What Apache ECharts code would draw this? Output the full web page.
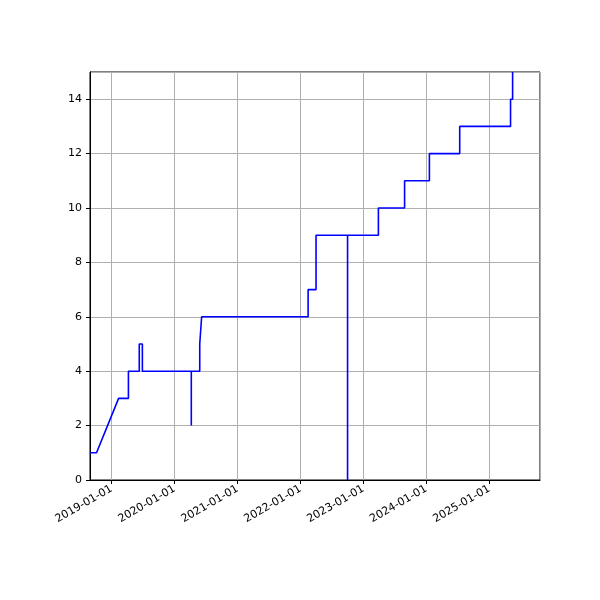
<!DOCTYPE html>
<html>
<head>
<meta charset="utf-8">
<script src="https://cdn.jsdelivr.net/npm/echarts@6/dist/echarts.min.js"></script>
<style>html,body{margin:0;background:#fff}#main{width:600px;height:600px}</style>
</head>
<body>
<div id="main"></div>
<script>
var dates = [
  '2018-08-28', '2018-10-05', '2019-02-10', '2019-04-08', '2019-04-08',
  '2019-06-10', '2019-06-10', '2019-06-28', '2019-06-28', '2020-04-07',
  '2020-04-07', '2020-04-07', '2020-05-26', '2020-05-26', '2020-06-06',
  '2020-06-06', '2022-02-14', '2022-02-14', '2022-04-01', '2022-04-01',
  '2022-10-01', '2022-10-01', '2022-10-01', '2023-03-29', '2023-03-29',
  '2023-08-28', '2023-08-28', '2024-01-19', '2024-01-19', '2024-07-13',
  '2024-07-13', '2025-05-04', '2025-05-04', '2025-05-16', '2025-05-16'
]
var values = [
  1, 1, 3, 3, 4,
  4, 5, 5, 4, 4,
  2, 4, 4, 5, 5,
  6, 6, 7, 7, 9,
  9, 0, 9, 9, 10,
  10, 11, 11, 12, 12,
  13, 13, 14, 14, 15
]
var yTicks = [0, 2, 4, 6, 8, 10, 12, 14]

var myChart
function pad(n) { return n < 10 ? '0' + n : '' + n }

function initChart() {
  myChart = echarts.init(document.getElementById('main'))
  var data = dates.map(function (d, i) { return [d, values[i]] })
  var YEAR = 365 * 86400000
  myChart.setOption({
    animation: false,
    grid: { left: 90, right: 60, top: 72, bottom: 120, show: true, borderColor: '#000', borderWidth: 1 },
    xAxis: {
      type: 'time',
      min: '2018-08-28',
      max: '2025-10-22',
      minInterval: YEAR,
      maxInterval: YEAR,
      axisLine: { lineStyle: { color: '#000' } },
      axisTick: { show: true, length: 4, lineStyle: { color: '#000' } },
      splitLine: { show: true, lineStyle: { color: '#b0b0b0', width: 1 } },
      axisLabel: {
        rotate: 30, color: '#000', fontSize: 11, fontFamily: 'DejaVu Sans',
        hideOverlap: false, showMinLabel: false, showMaxLabel: false,
        formatter: function (v) {
          var d = new Date(v)
          return d.getFullYear() + '-' + pad(d.getMonth() + 1) + '-' + pad(d.getDate())
        }
      }
    },
    yAxis: {
      type: 'value', min: 0, max: 15, interval: 2,
      axisLine: { show: true, lineStyle: { color: '#000' } },
      axisTick: { show: true, length: 4, lineStyle: { color: '#000' } },
      splitLine: { show: true, lineStyle: { color: '#b0b0b0', width: 1 } },
      axisLabel: {
        color: '#000', fontSize: 11, fontFamily: 'DejaVu Sans', showMaxLabel: false,
        formatter: function (v) { return yTicks.indexOf(v) >= 0 ? String(v) : '' }
      }
    },
    series: [{
      type: 'line',
      data: data,
      showSymbol: false,
      lineStyle: { color: '#0000ff', width: 1.6 },
      itemStyle: { color: '#0000ff' }
    }]
  })
}

initChart()
</script>
</body>
</html>
